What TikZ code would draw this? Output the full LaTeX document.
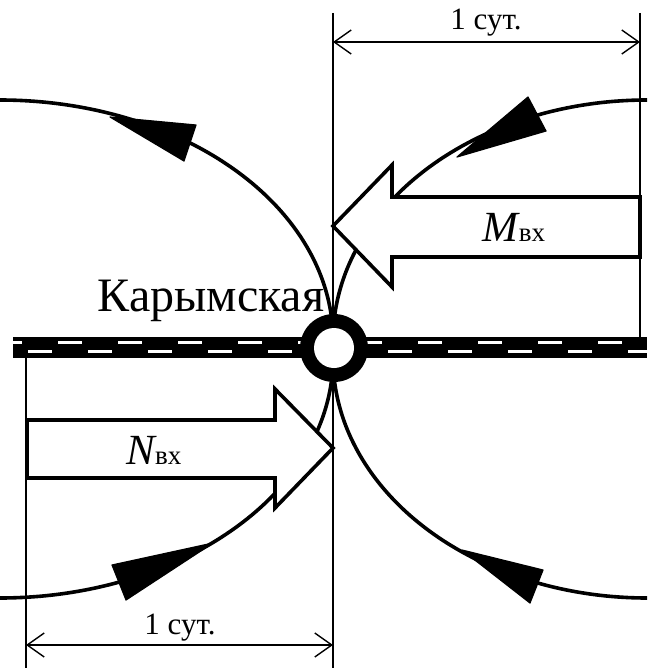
\documentclass[tikz,border=0pt]{standalone}
\usepackage{fontspec}
\setmainfont{Liberation Serif}
\usetikzlibrary{arrows.meta}
\begin{document}
\begin{tikzpicture}[x=1pt,y=-1pt,
  flow/.style={line width=3.6pt,line cap=round},
  tri/.style={fill=black,draw=black,line width=1.2pt,line join=round},
  blockarrow/.style={draw=black,fill=white,line width=3.6pt,line join=miter},
  guide/.style={line width=1.4pt},
  dimline/.style={line width=1.4pt,{Straight Barb[length=17pt,width=24pt,line width=1.4pt]}-{Straight Barb[length=17pt,width=24pt,line width=1.4pt]}},
  dimtext/.style={font=\fontsize{31}{33}\selectfont,anchor=base},
  roadband/.style={fill=black},
  roaddash/.style={draw=white,line width=2.6pt}
]
\useasboundingbox (0,0) rectangle (647,671);
\begin{scope}
\clip (0,0) rectangle (647,671);
% flow arcs
\draw[flow] plot[domain=0:90,samples=80,smooth] ({333*cos(\x)},{340-240*sin(\x)});
\draw[flow] plot[domain=0:90,samples=80,smooth] ({647-314*cos(\x)},{340-240*sin(\x)});
\draw[flow] plot[domain=0:90,samples=80,smooth] ({333*cos(\x)},{358+240*sin(\x)});
\draw[flow] plot[domain=0:90,samples=80,smooth] ({647-314*cos(\x)},{358+240*sin(\x)});
\end{scope}
% arrowheads on arcs
\draw[tri] (110,117) -- (196,125) -- (184,161) -- cycle;
\draw[tri] (457,157) -- (546,131) -- (528,97) -- cycle;
\draw[tri] (213,543) -- (126,600) -- (112,565) -- cycle;
\draw[tri] (462,550) -- (543,570) -- (530,603) -- cycle;
% guide lines
\coordinate (t1) at (333,13);
\coordinate (b1) at (333,668);
\coordinate (t2) at (640,13);
\coordinate (b2) at (640,337);
\coordinate (t3) at (26,358);
\coordinate (b3) at (26,668);
\draw[guide] (t1) -- (b1);
\draw[guide] (t2) -- (b2);
\draw[guide] (t3) -- (b3);
% dimension lines
\coordinate (d1a) at (333,42);
\coordinate (d1b) at (640,42);
\coordinate (d2a) at (26,645);
\coordinate (d2b) at (333,645);
\draw[dimline] (d1a) -- (d1b);
\draw[dimline] (d2a) -- (d2b);
\node[dimtext] (dt1) at (486,30) {1 сут.};
\node[dimtext] (dt2) at (180,634) {1 сут.};
% road
\fill[roadband] (13,337) rectangle (647,358);
\foreach \k in {0,...,11}{
  \pgfmathsetmacro{\s}{max(13,-2+60*\k)}
  \pgfmathsetmacro{\e}{min(647,22+60*\k)}
  \draw[roaddash] (\s,342.5) -- (\e,342.5);
}
\foreach \k in {0,...,10}{
  \pgfmathsetmacro{\s}{28+60*\k}
  \pgfmathsetmacro{\e}{min(647,52+60*\k)}
  \draw[roaddash] (\s,351.5) -- (\e,351.5);
}
% station
\node[circle,fill=black,minimum size=68pt,inner sep=0pt] (st) at (334,348) {};
\node[circle,fill=white,minimum size=40pt,inner sep=0pt] (sti) at (st.center) {};
\node[font=\fontsize{48}{50}\selectfont,anchor=base] (name) at (211,311) {Карымская};
% block arrows
\draw[blockarrow] (333,226) -- (392,165) -- (392,197) -- (640,197) -- (640,257) -- (392,257) -- (392,287) -- cycle;
\draw[blockarrow] (333,448) -- (275,389) -- (275,420) -- (27,420) -- (27,478) -- (275,478) -- (275,508) -- cycle;
\node[anchor=base,inner sep=0pt] (ml) at (514,241) {\fontsize{43}{45}\selectfont\itshape M\fontsize{27}{29}\selectfont\upshape вх};
\node[anchor=base,inner sep=0pt] (nl) at (154,464) {\fontsize{43}{45}\selectfont\itshape N\fontsize{27}{29}\selectfont\upshape вх};
\end{tikzpicture}
\end{document}
